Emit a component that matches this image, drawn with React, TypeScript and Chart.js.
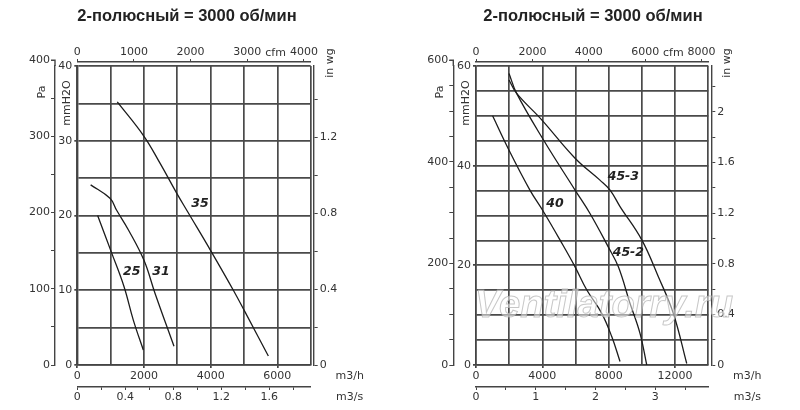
import { useEffect, useRef } from 'react'
import { Chart, registerables } from 'chart.js'

Chart.register(...registerables)

const TITLE = '2-полюсный = 3000 об/мин'

// conversions for the secondary axes
const PA_PER_MM = 9.81
const MM_PER_INWG = 25.4
const M3H_PER_CFM = 1.699
const M3H_PER_M3S = 3600

// ---- left chart: fans 25 / 31 / 35 (flow m3/h, pressure mmH2O)
const fan25Flow = [610, 1030, 1400, 1680, 1980]
const fan25Pres = [20.0, 15.0, 10.5, 6.0, 2.0]
const fan31Flow = [400, 980, 1180, 1530, 2000, 2330, 2900]
const fan31Pres = [24.1, 22.3, 20.7, 18.1, 14.0, 9.6, 2.5]
const fan35Flow = [1200, 2000, 2480, 2980, 3310, 4000, 4680, 5030, 5730]
const fan35Pres = [35.2, 30.6, 27.0, 23.0, 20.5, 15.3, 10.0, 7.1, 1.2]

const leftNames = ['25', '31', '35']
const leftLabelFlow = [1630, 2510, 3680]
const leftLabelPres = [12.5, 12.5, 21.6]

const leftFlowTicks = [0, 1000, 2000, 3000, 4000, 5000, 6000, 7000]
const leftFlowLabels = [0, 2000, 4000, 6000]
const leftMmTicks = [0, 5, 10, 15, 20, 25, 30, 35, 40]
const leftMmLabels = [0, 10, 20, 30, 40]
const leftPaTicks = [0, 50, 100, 150, 200, 250, 300, 350, 400]
const leftPaLabels = [0, 100, 200, 300, 400]
const leftInwgTicks = [0, 0.2, 0.4, 0.6, 0.8, 1, 1.2, 1.4]
const leftInwgLabels = [0, 0.4, 0.8, 1.2]
const leftCfmTicks = [0, 1000, 2000, 3000, 4000]
const leftM3sTicks = [0, 0.2, 0.4, 0.6, 0.8, 1, 1.2, 1.4, 1.6, 1.8]
const leftM3sLabels = [0, 0.4, 0.8, 1.2, 1.6]

// ---- right chart: fans 40 / 45-2 / 45-3
const fan40Flow = [1000, 1990, 3250, 4060, 5060, 5970, 6670, 7570, 8180, 8680]
const fan40Pres = [50.0, 43.1, 35.1, 30.8, 25.1, 19.7, 15.1, 10.4, 5.7, 0.7]
const fan452Flow = [1990, 2450, 4060, 5970, 6870, 7970, 8580, 9280, 9880, 10290]
const fan452Pres = [58.5, 54.5, 45.2, 35.1, 30.4, 23.7, 19.7, 12.4, 6.4, 0.0]
const fan453Flow = [1990, 2450, 3960, 5970, 7470, 8080, 8680, 9990, 10990, 11890, 12700]
const fan453Pres = [57.2, 54.5, 49.2, 41.5, 37.1, 35.1, 31.8, 25.1, 17.7, 10.4, 0.3]

const rightNames = ['40', '45-2', '45-3']
const rightLabelFlow = [4760, 9180, 8880]
const rightLabelPres = [32.4, 22.5, 37.7]

const rightFlowTicks = [0, 2000, 4000, 6000, 8000, 10000, 12000, 14000]
const rightFlowLabels = [0, 4000, 8000, 12000]
const rightMmTicks = [0, 5, 10, 15, 20, 25, 30, 35, 40, 45, 50, 55, 60]
const rightMmLabels = [0, 20, 40, 60]
const rightPaTicks = [0, 50, 100, 150, 200, 250, 300, 350, 400, 450, 500, 550, 600]
const rightPaLabels = [0, 200, 400, 600]
const rightInwgTicks = [0, 0.2, 0.4, 0.6, 0.8, 1, 1.2, 1.4, 1.6, 1.8, 2, 2.2]
const rightInwgLabels = [0, 0.4, 0.8, 1.2, 1.6, 2]
const rightCfmTicks = [0, 2000, 4000, 6000, 8000]
const rightM3sTicks = [0, 0.5, 1, 1.5, 2, 2.5, 3, 3.5]
const rightM3sLabels = [0, 1, 2, 3]

const WATERMARK = 'Ventilatorry.ru'

const AXIS = '#444'
const GRID = '#4a4a4a'
const TEXT = '#333'
const CURVE = '#1c1c1c'
const FAMILY = "'DejaVu Sans', sans-serif"
const FONT = { family: FAMILY, size: 11 }

interface Curve { name: string; flow: number[]; pres: number[]; lx: number; ly: number }
interface Spec {
  curves: Curve[]
  flowTicks: number[]; flowLabels: number[]
  mmTicks: number[]; mmLabels: number[]
  paTicks: number[]; paLabels: number[]
  inwgTicks: number[]; inwgLabels: number[]
  cfmTicks: number[]
  m3sTicks: number[]; m3sLabels: number[]
  padLeft: number; padRight: number; mmWidth: number
  watermark?: string
}

const last = (a: number[]) => a[a.length - 1]

function axis(ticks: number[], labels: number[], extra: any = {}) {
  const { tickOpts = {}, ...rest } = extra
  return {
    type: 'linear',
    min: 0,
    afterBuildTicks: (s: any) => { s.ticks = ticks.map((value) => ({ value })) },
    ticks: {
      autoSkip: false, maxRotation: 0, minRotation: 0, color: TEXT, font: FONT,
      callback: (v: any) => (labels.includes(Number(v)) ? String(v) : ''),
      ...tickOpts,
    },
    border: { color: AXIS, width: 1.4 },
    ...rest,
  }
}

const gap = (position: string, size: number) => ({
  type: 'linear', position, weight: 0, display: true,
  grid: { display: false }, border: { display: false }, ticks: { display: false },
  afterFit: (s: any) => { if (position === 'top') s.height = size; else s.width = size },
})

function FanChart({ spec }: { spec: Spec }) {
  const canvasRef = useRef<HTMLCanvasElement>(null)

  useEffect(() => {
    if (!canvasRef.current) return
    const flowMax = last(spec.flowTicks)
    const mmMax = last(spec.mmTicks)
    const labelled = (labels: number[]) => (c: any) => (labels.includes(c.tick?.value) ? AXIS : 'rgba(0,0,0,0)')

    const annotate = {
      id: 'annotate',
      afterDraw(chart: any) {
        const { ctx, chartArea: a, scales } = chart
        const { x, y, pa, cfm } = scales
        ctx.save()
        // Pa axis runs a bit above the plot, up to its top label
        const paTop = pa.getPixelForValue(last(spec.paTicks))
        ctx.strokeStyle = AXIS
        ctx.lineWidth = 1.4
        ctx.beginPath()
        ctx.moveTo(pa.right, a.top)
        ctx.lineTo(pa.right, paTop)
        ctx.lineTo(pa.right - 4, paTop)
        ctx.stroke()

        ctx.fillStyle = TEXT
        ctx.font = `11px ${FAMILY}`
        ctx.textAlign = 'center'
        ctx.textBaseline = 'middle'
        const rotated = (t: string, px: number, py: number, ang: number) => {
          ctx.save(); ctx.translate(px, py); ctx.rotate(ang); ctx.fillText(t, 0, 0); ctx.restore()
        }
        rotated('Pa', pa.right - 13, a.top + 26, -Math.PI / 2)
        rotated('mmH2O', a.left - 10, a.top + 37, -Math.PI / 2)
        rotated('in wg', a.right + 19, a.top - 3, -Math.PI / 2)
        const ct = spec.cfmTicks
        ctx.fillText('cfm', cfm.getPixelForValue((ct[ct.length - 2] + last(ct)) / 2), a.top - 13)
        ctx.fillText('m3/h', a.right + 39, a.bottom + 11)
        ctx.fillText('m3/s', a.right + 39, a.bottom + 32)

        ctx.font = `italic 600 12.5px ${FAMILY}`
        ctx.fillStyle = '#222'
        spec.curves.forEach((c) => ctx.fillText(c.name, x.getPixelForValue(c.lx), y.getPixelForValue(c.ly)))

        if (spec.watermark) {
          ctx.font = `italic bold 40px 'Liberation Sans', sans-serif`
          const w = ctx.measureText(spec.watermark).width
          const size = (40 * 258) / w
          ctx.font = `italic bold ${size}px 'Liberation Sans', sans-serif`
          const cx = a.left + 0.551 * (a.right - a.left)
          const cy = a.top + 0.805 * (a.bottom - a.top)
          ctx.fillStyle = 'rgba(255,255,255,0.5)'
          ctx.strokeStyle = 'rgba(175,175,175,0.7)'
          ctx.lineWidth = 1
          ctx.fillText(spec.watermark, cx, cy)
          ctx.strokeText(spec.watermark, cx, cy)
        }
        ctx.restore()
      },
    }

    const chart = new Chart(canvasRef.current, {
      type: 'scatter',
      data: {
        datasets: spec.curves.map((c) => ({
          label: c.name,
          data: c.flow.map((f, i) => ({ x: f, y: c.pres[i] })),
          showLine: true,
          borderColor: CURVE,
          borderWidth: 1.3,
          pointRadius: 0,
          tension: 0.4,
          xAxisID: 'x',
          yAxisID: 'y',
        })),
      },
      options: {
        animation: false,
        responsive: false,
        layout: { padding: { left: spec.padLeft, right: spec.padRight, top: 46, bottom: 3 } },
        plugins: { legend: { display: false }, tooltip: { enabled: false } },
        scales: {
          x: axis(spec.flowTicks, spec.flowLabels, {
            position: 'bottom', weight: 0, max: flowMax,
            grid: { color: GRID, lineWidth: 1.7, tickLength: 3, tickColor: labelled(spec.flowLabels) },
            tickOpts: { padding: 2 },
            afterFit: (s: any) => { s.height = 22 },
          }),
          m3s: axis(spec.m3sTicks, spec.m3sLabels, {
            position: 'bottom', weight: 1, max: flowMax / M3H_PER_M3S,
            grid: { drawOnChartArea: false, tickLength: 3, color: AXIS, lineWidth: 1 },
            tickOpts: { padding: 1 },
            afterFit: (s: any) => { s.height = 20 },
          }),
          y: axis(spec.mmTicks, spec.mmLabels, {
            position: 'left', weight: 0, max: mmMax,
            grid: { color: GRID, lineWidth: 1.7, tickLength: 3, tickColor: labelled(spec.mmLabels) },
            tickOpts: { padding: 2 },
            afterFit: (s: any) => { s.width = spec.mmWidth },
          }),
          pa: axis(spec.paTicks, spec.paLabels, {
            position: 'left', weight: 1, max: mmMax * PA_PER_MM,
            grid: { drawOnChartArea: false, tickLength: 4, color: AXIS, lineWidth: 1 },
            tickOpts: { padding: 1 },
            afterFit: (s: any) => { s.width = 26 },
          }),
          gapTop: gap('top', 4),
          cfm: axis(spec.cfmTicks, spec.cfmTicks, {
            position: 'top', weight: 1, max: flowMax / M3H_PER_CFM,
            grid: { drawOnChartArea: false, tickLength: 3, color: AXIS, lineWidth: 1 },
            tickOpts: { padding: 0 },
            afterFit: (s: any) => { s.height = 16 },
          }),
          gapRight: gap('right', 3),
          inwg: axis(spec.inwgTicks, spec.inwgLabels, {
            position: 'right', weight: 1, max: mmMax / MM_PER_INWG,
            grid: { drawOnChartArea: false, tickLength: 4, color: AXIS, lineWidth: 1 },
            tickOpts: { padding: 2 },
            afterFit: (s: any) => { s.width = 26 },
          }),
        } as any,
      },
      plugins: [annotate],
    } as any)

    return () => chart.destroy()
  }, [spec])

  return <canvas ref={canvasRef} width={400} height={410} style={{ display: 'block' }} />
}

const leftSpec: Spec = {
  curves: [
    { name: leftNames[0], flow: fan25Flow, pres: fan25Pres, lx: leftLabelFlow[0], ly: leftLabelPres[0] },
    { name: leftNames[1], flow: fan31Flow, pres: fan31Pres, lx: leftLabelFlow[1], ly: leftLabelPres[1] },
    { name: leftNames[2], flow: fan35Flow, pres: fan35Pres, lx: leftLabelFlow[2], ly: leftLabelPres[2] },
  ],
  flowTicks: leftFlowTicks, flowLabels: leftFlowLabels,
  mmTicks: leftMmTicks, mmLabels: leftMmLabels,
  paTicks: leftPaTicks, paLabels: leftPaLabels,
  inwgTicks: leftInwgTicks, inwgLabels: leftInwgLabels,
  cfmTicks: leftCfmTicks,
  m3sTicks: leftM3sTicks, m3sLabels: leftM3sLabels,
  padLeft: 29, padRight: 60.3, mmWidth: 22.3,
}

const rightSpec: Spec = {
  curves: [
    { name: rightNames[0], flow: fan40Flow, pres: fan40Pres, lx: rightLabelFlow[0], ly: rightLabelPres[0] },
    { name: rightNames[1], flow: fan452Flow, pres: fan452Pres, lx: rightLabelFlow[1], ly: rightLabelPres[1] },
    { name: rightNames[2], flow: fan453Flow, pres: fan453Pres, lx: rightLabelFlow[2], ly: rightLabelPres[2] },
  ],
  flowTicks: rightFlowTicks, flowLabels: rightFlowLabels,
  mmTicks: rightMmTicks, mmLabels: rightMmLabels,
  paTicks: rightPaTicks, paLabels: rightPaLabels,
  inwgTicks: rightInwgTicks, inwgLabels: rightInwgLabels,
  cfmTicks: rightCfmTicks,
  m3sTicks: rightM3sTicks, m3sLabels: rightM3sLabels,
  padLeft: 27.3, padRight: 62.7, mmWidth: 22.7,
  watermark: WATERMARK,
}

const titleStyle = {
  position: 'absolute' as const, top: 5, width: 300, textAlign: 'center' as const,
  font: "bold 16.5px 'Liberation Sans', Arial, sans-serif", color: '#222', lineHeight: '20px',
}

export default function App() {
  return (
    <div style={{ position: 'fixed', left: 0, top: 0, width: 800, height: 410, background: '#fff' }}>
      <div style={{ position: 'absolute', left: 0, top: 0 }}><FanChart spec={leftSpec} /></div>
      <div style={{ position: 'absolute', left: 400, top: 0 }}><FanChart spec={rightSpec} /></div>
      <div style={{ ...titleStyle, left: 37 }}>{TITLE}</div>
      <div style={{ ...titleStyle, left: 443 }}>{TITLE}</div>
    </div>
  )
}
